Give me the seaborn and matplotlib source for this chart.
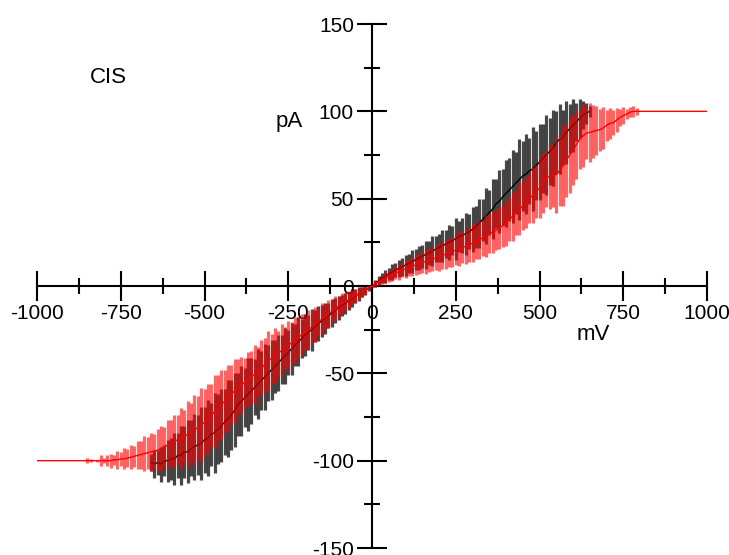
import matplotlib

matplotlib.use("Agg")
import matplotlib.pyplot as plt
import numpy as np
import pandas as pd
import seaborn as sns

# voltage sweeps (mV)
black_mv = np.arange(-660, 651, 10)
red_mv = np.arange(-1000, 1001, 10)

# black trace, mean current (pA), -660 .. 650 mV
black_mean = [
    -101, -102, -101, -102, -100, -100,                      # -660..-610
    -99, -99, -97, -97, -95, -95, -93, -92, -91, -90,        # -600..-510
    -88, -87, -85, -84, -82, -80, -78, -76, -74, -71,        # -500..-410
    -68, -66, -64, -62, -60, -58, -56, -54, -52, -50,        # -400..-310
    -48, -46, -44, -42, -40, -38, -36, -34, -32, -30,        # -300..-210
    -28, -26.5, -25, -23, -21.5, -20, -18.5, -17, -15.5, -14,  # -200..-110
    -12.5, -11, -10, -8.5, -7, -6, -4.5, -3.5, -2.5, -1.2,   # -100..-10
    0,
    1.5, 3, 4.5, 5.5, 7, 8, 9, 10, 11, 12,                   # 10..100
    13, 14, 15, 16, 17, 18, 19, 20, 21, 22,                  # 110..200
    23, 24, 25, 26, 27, 28.5, 29, 30, 31, 32.5,              # 210..300
    34, 36, 38, 40, 42, 44, 47, 48.5, 51, 53,                # 310..400
    55, 57, 59, 61, 63, 64, 66, 67, 69, 71,                  # 410..500
    73, 75, 77, 79, 82, 84, 85, 88, 90, 92,                  # 510..600
    94, 96, 98, 99, 100,                                     # 610..650
]
black_err = [
    5, 8, 7, 10, 9, 12,
    12, 15, 13, 17, 15, 18, 16, 19, 17, 21,
    19, 22, 18, 23, 20, 21, 19, 22, 20, 21,
    18, 20, 17, 21, 19, 16, 20, 17, 19, 16,
    17, 15, 16, 14, 16, 13, 15, 12, 14, 11,
    12, 10, 12, 9, 10, 9, 9, 7, 8, 7,
    7, 6, 6, 5, 5, 4, 4, 3, 2.5, 1.5,
    0.5,
    2, 2.5, 3, 3.5, 3.5, 4.5, 4, 5, 5, 6,
    5.5, 6.5, 6, 7, 6.5, 8, 7, 8.5, 7.5, 8,
    9, 8, 10, 8.5, 12, 9, 10, 12, 10, 13,
    12, 14, 12, 16, 13, 17, 14, 18, 16, 19,
    18, 21, 18, 23, 20, 23, 19, 24, 20, 22,
    20, 23, 19, 22, 18, 20, 16, 18, 14, 15,
    11, 11, 8, 6, 3,
]

# red trace, mean current (pA), -1000 .. 1000 mV
red_mean = (
    [-100] * 21                                                           # -1000..-800
    + [-100, -100, -99.5, -99.5, -99, -99, -98.5, -98, -97.5, -97,         # -790..-700
       -96.5, -96, -95.5, -95, -94.5, -94, -93, -92, -91, -90,             # -690..-600
       -89, -88, -87, -86, -85, -84, -82.5, -81, -79.5, -78,               # -590..-500
       -76, -74, -72, -70, -68, -66, -64, -62, -60, -58,                   # -490..-400
       -56.5, -55, -53.5, -52, -50.5, -49, -47, -45, -43, -41.5,           # -390..-300
       -40, -38.5, -37, -35.5, -34, -32.5, -31, -29.5, -28, -26.5,         # -290..-200
       -25, -23.5, -22, -20.5, -19, -17.5, -16, -14.5, -13, -11.5,         # -190..-100
       -10, -9, -8, -6.5, -5.5, -4.5, -3.5, -2.5, -1,                      # -90..-10
       0,
       1.2, 2.5, 3.5, 4.5, 5.5, 6.5, 7.5, 8.2, 9, 9.8,                     # 10..100
       10.5, 11.2, 12, 12.7, 13.4, 14, 14.7, 15.4, 16, 16.8,               # 110..200
       17.5, 18.2, 19, 19.8, 20.5, 21.3, 22, 22.8, 23.5, 24.5,             # 210..300
       25.5, 26.5, 27.5, 28.5, 30, 31, 32, 33, 34.5, 36,                   # 310..400
       38, 40, 42, 44, 46, 48, 50, 52, 54, 56,                             # 410..500
       59, 61.5, 63, 63, 64, 66, 69, 72, 75, 78,                           # 510..600
       81, 84, 86, 87.5, 88, 88.5, 89, 89.5, 90.5, 92,                     # 610..700
       93, 93.5, 95, 96.5, 97.5, 98.5, 99.5, 100]                          # 710..780
    + [100] * 22                                                          # 790..1000
)
red_err = (
    [0] * 11
    + [0, 0, 0, 0, 1.5, 1, 0, 0.5, 3, 1.5,
       3, 4, 3, 5, 4, 6, 5, 7, 6, 8,
       8, 10, 9, 11, 10, 12, 13, 11, 14, 13,
       15, 14, 17, 15, 19, 17, 20, 18, 21, 19,
       20, 18, 21, 19, 20, 18, 19, 17, 18, 16,
       16, 14, 16, 15, 17, 14, 16, 15, 17, 14,
       16, 13, 15, 12, 14, 12, 13, 11, 12, 10,
       11, 9, 10, 8, 9, 7, 8, 6, 7, 6,
       6, 5, 5, 4, 4, 3, 3, 2, 1,
       0.5,
       1.5, 2, 2.5, 3, 3, 3.5, 3.5, 4.5, 4, 5,
       5, 5.5, 5.5, 6, 6, 7, 6.5, 7, 7, 8,
       7.5, 8.5, 8, 9, 8.5, 10, 9, 10, 9.5, 11,
       10, 11, 10.5, 12, 11, 12, 11.5, 12, 12, 13,
       12.5, 14, 13, 15, 14, 15, 14, 16, 15, 17,
       17, 16, 19, 18, 22, 20, 23, 21, 22, 20,
       20, 17, 18, 15, 17, 15, 14, 12, 12, 9,
       9, 7, 7, 5, 5, 3, 3, 3,
       2]
    + [0] * 21
)

x_ticks = [-1000, -750, -500, -250, 0, 250, 500, 750, 1000]
y_ticks = [-150, -100, -50, 0, 50, 100, 150]

black_df = pd.DataFrame({"mV": black_mv, "pA": black_mean, "err": black_err})
red_df = pd.DataFrame({"mV": red_mv, "pA": red_mean, "err": red_err})

sns.set_style("ticks")
plt.rcParams["font.family"] = ["Liberation Sans", "DejaVu Sans"]
plt.rcParams["axes.unicode_minus"] = False
plt.rcParams["text.color"] = "black"

fig = plt.figure(figsize=(7.29, 5.55), dpi=100)
ax = fig.add_axes([37 / 729, 7 / 555, 670 / 729, 524 / 555])

ax.errorbar(black_df["mV"], black_df["pA"], yerr=black_df["err"], fmt="none",
            ecolor="black", elinewidth=2.3, alpha=0.72, zorder=2)
sns.lineplot(data=black_df, x="mV", y="pA", color="black", linewidth=1,
             ax=ax, zorder=3)
ax.errorbar(red_df["mV"], red_df["pA"], yerr=red_df["err"], fmt="none",
            ecolor="red", elinewidth=2.3, alpha=0.6, zorder=4)
sns.lineplot(data=red_df, x="mV", y="pA", color="red", linewidth=1,
             ax=ax, zorder=5)

ax.set_xlim(-1000, 1000)
ax.set_ylim(-150, 150)
ax.spines["left"].set_position(("data", 0))
ax.spines["bottom"].set_position(("data", 0))
ax.spines["top"].set_visible(False)
ax.spines["right"].set_visible(False)
for s in ("left", "bottom"):
    ax.spines[s].set_linewidth(1.5)
    ax.spines[s].set_color("black")
    ax.spines[s].set_zorder(1)

ax.set_xticks(x_ticks)
ax.set_yticks(y_ticks)
ax.set_xticks([t + 125 for t in x_ticks[:-1]], minor=True)
ax.set_yticks([t + 25 for t in y_ticks[:-1]], minor=True)
ax.tick_params(which="major", direction="inout", length=22, width=1.5,
               labelsize=15, pad=2, color="black", labelcolor="black",
               bottom=True, left=True)
ax.tick_params(which="minor", direction="inout", length=12, width=1.5,
               color="black", bottom=True, left=True)
ax.set_xlabel("")
ax.set_ylabel("")

ax.text(-786, 119.5, "CIS", fontsize=16, ha="center", va="center")
ax.text(-248, 94, "pA", fontsize=16, ha="center", va="center")
ax.text(660, -27.5, "mV", fontsize=16, ha="center", va="center")

fig.savefig("out.png", dpi=100)
